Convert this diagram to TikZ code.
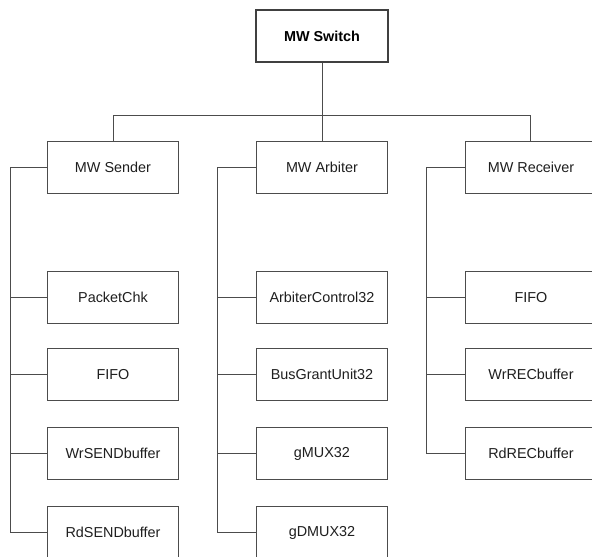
\documentclass[tikz,border=0pt]{standalone}
\usepackage{fontspec}
\setmainfont{Liberation Sans}
\begin{document}
\begin{tikzpicture}[x=1pt,y=-1pt,
  box/.style={draw=black!70, line width=1pt, minimum width=131pt, minimum height=52pt, inner sep=0pt,
    font=\fontsize{14.4}{17}\selectfont, text=black!88},
  topbox/.style={box, draw=black!75, line width=2pt, minimum width=132pt, font=\fontsize{14.4}{17}\selectfont\bfseries, text=black},
  link/.style={draw=black!70, line width=1pt}]
\clip (0,0) rectangle (592,557);
\fill[white] (0,0) rectangle (592,557);
% nodes
\node[topbox] (switch) at (322,36) {MW Switch};
\node[box] (sender) at (113,167.5) {MW Sender};
\node[box] (arbiter) at (322,167.5) {MW Arbiter};
\node[box] (receiver) at (531,167.5) {MW Receiver};
% sender children
\node[box] (pkt) at (113,297.5) {PacketChk};
\node[box] (sfifo) at (113,374.5) {FIFO};
\node[box] (wrsend) at (113,453.5) {WrSENDbuffer};
\node[box] (rdsend) at (113,532.5) {RdSENDbuffer};
% arbiter children
\node[box] (actl) at (322,297.5) {ArbiterControl32};
\node[box] (bgu) at (322,374.5) {BusGrantUnit32};
\node[box] (gmux) at (322,453.5) {gMUX32};
\node[box] (gdmux) at (322,532.5) {gDMUX32};
% receiver children
\node[box] (rfifo) at (531,297.5) {FIFO};
\node[box] (wrrec) at (531,374.5) {WrRECbuffer};
\node[box] (rdrec) at (531,453.5) {RdRECbuffer};
% coordinates
\coordinate (jn) at (322.5,115.5);
\coordinate (srail) at (10.5,167.5);
\coordinate (arail) at (217.5,167.5);
\coordinate (rrail) at (426.5,167.5);
\coordinate (sdrop) at (113.5,141.5);
\coordinate (rdrop) at (530.5,141.5);
% top level links
\draw[link] (jn |- switch.south) -- (jn);
\draw[link] (jn) -| (sdrop);
\draw[link] (jn) -| (rdrop);
\draw[link] (jn) -- (jn |- arbiter.north);
% sender links
\draw[link] (sender.west) -- (srail) |- (rdsend.west);
\draw[link] (srail |- pkt.west) -- (pkt.west);
\draw[link] (srail |- sfifo.west) -- (sfifo.west);
\draw[link] (srail |- wrsend.west) -- (wrsend.west);
% arbiter links
\draw[link] (arbiter.west) -- (arail) |- (gdmux.west);
\draw[link] (arail |- actl.west) -- (actl.west);
\draw[link] (arail |- bgu.west) -- (bgu.west);
\draw[link] (arail |- gmux.west) -- (gmux.west);
% receiver links
\draw[link] (receiver.west) -- (rrail) |- (rdrec.west);
\draw[link] (rrail |- rfifo.west) -- (rfifo.west);
\draw[link] (rrail |- wrrec.west) -- (wrrec.west);
\end{tikzpicture}
\end{document}
